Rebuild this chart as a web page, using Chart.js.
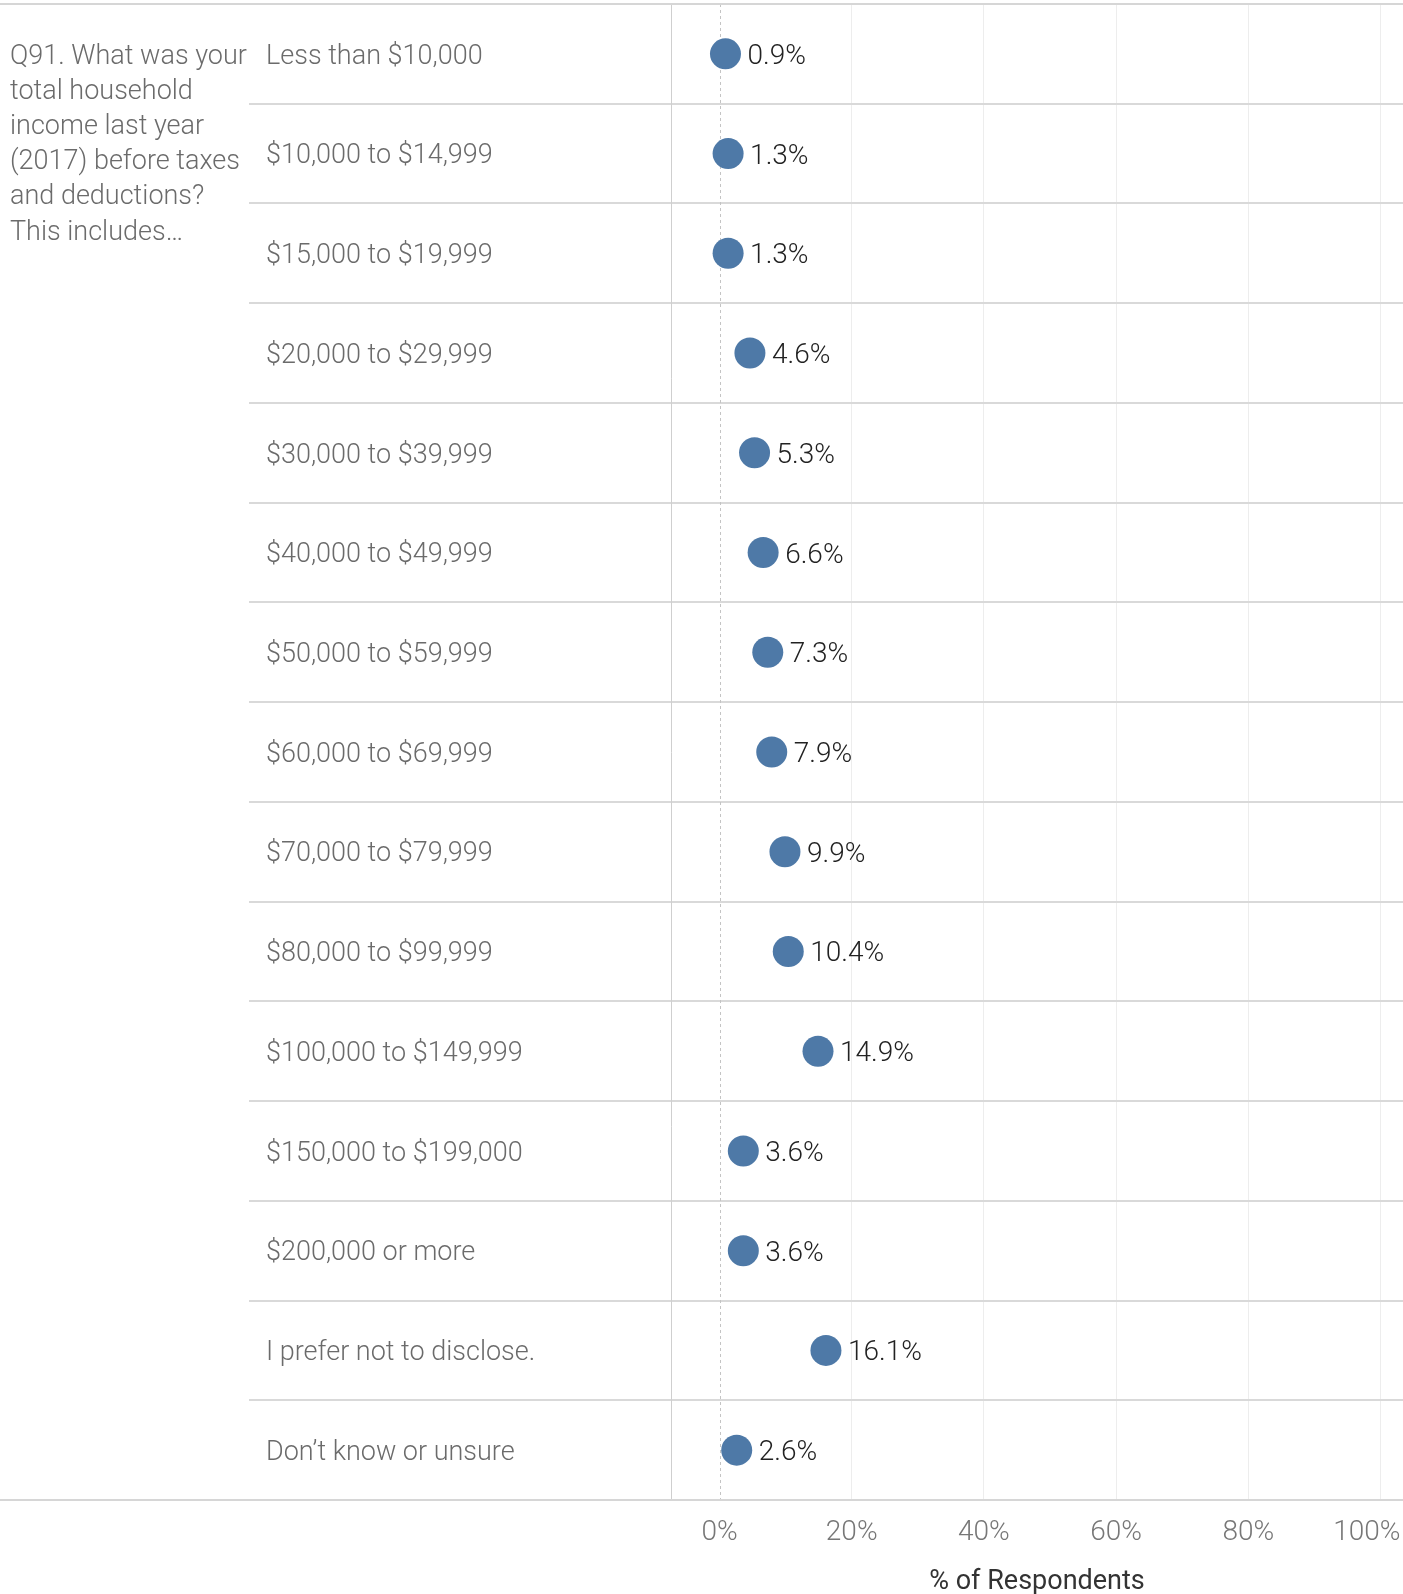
<!DOCTYPE html>
<html><head><meta charset="utf-8">
<script src="https://cdn.jsdelivr.net/npm/chart.js@4.4.1/dist/chart.umd.min.js"></script>
<style>html,body{margin:0;padding:0;background:#fff;overflow:hidden}#wrap{width:1403px;height:1594px;position:relative}</style>
</head><body><div id="wrap"><canvas id="c" width="1403" height="1594"></canvas></div>
<script>
const categories = [
  'Less than $10,000', '$10,000 to $14,999', '$15,000 to $19,999', '$20,000 to $29,999',
  '$30,000 to $39,999', '$40,000 to $49,999', '$50,000 to $59,999', '$60,000 to $69,999',
  '$70,000 to $79,999', '$80,000 to $99,999', '$100,000 to $149,999', '$150,000 to $199,000',
  '$200,000 or more', 'I prefer not to disclose.', 'Don\u2019t know or unsure'
];
const values = [0.9, 1.3, 1.3, 4.6, 5.3, 6.6, 7.3, 7.9, 9.9, 10.4, 14.9, 3.6, 3.6, 16.1, 2.6];
const xTickValues = [0, 20, 40, 60, 80, 100];
const questionLines = ['Q91. What was your', 'total household', 'income last year', '(2017) before taxes', 'and deductions?', 'This includes\u2026'];
const axisTitle = '% of Respondents';

const FONT = 'Roboto';
const extras = {
  id: 'extras',
  beforeDatasetsDraw(chart) {
    const {ctx, chartArea, scales} = chart;
    const x0 = scales.x.getPixelForValue(0);
    ctx.save();
    ctx.strokeStyle = '#c4c4c4';
    ctx.lineWidth = 1;
    ctx.setLineDash([3, 3]);
    ctx.beginPath();
    ctx.moveTo(Math.round(x0) + 0.5, chartArea.top);
    ctx.lineTo(Math.round(x0) + 0.5, chartArea.bottom);
    ctx.stroke();
    ctx.setLineDash([]);
    ctx.strokeStyle = '#d6d6d6';
    ctx.lineWidth = 2;
    [chartArea.top, chartArea.bottom].forEach(y => {
      ctx.beginPath(); ctx.moveTo(0, y); ctx.lineTo(chart.width, y); ctx.stroke();
    });
    ctx.fillStyle = '#6b6b6b';
    ctx.font = '300 27px ' + FONT;
    ctx.textAlign = 'left';
    ctx.textBaseline = 'middle';
    const y0 = scales.y.getPixelForValue(0);
    questionLines.forEach((t, i) => ctx.fillText(t, 10, y0 + 3 + i * 35.2));
    ctx.restore();
  },
  afterDatasetsDraw(chart) {
    const {ctx} = chart;
    const meta = chart.getDatasetMeta(0);
    ctx.save();
    ctx.fillStyle = '#222';
    ctx.font = '300 28px ' + FONT;
    ctx.textAlign = 'left';
    ctx.textBaseline = 'middle';
    meta.data.forEach((pt, i) => {
      ctx.fillText(values[i].toFixed(1) + '%', pt.x + 22, pt.y + 3);
    });
    ctx.restore();
  }
};

const zeroPad = s => { s.paddingTop = 0; s.paddingBottom = 0; s.paddingLeft = 0; s.paddingRight = 0; };

new Chart(document.getElementById('c'), {
  type: 'line',
  data: {
    labels: categories,
    datasets: [{
      data: values, showLine: false, pointRadius: 15.5, pointHoverRadius: 15.5,
      pointBackgroundColor: '#4e79a7', pointBorderWidth: 0, pointBorderColor: '#4e79a7'
    }]
  },
  options: {
    indexAxis: 'y', animation: false, responsive: false, devicePixelRatio: 1,
    events: [],
    plugins: {legend: {display: false}, tooltip: {enabled: false}},
    layout: {autoPadding: false, padding: {left: 266, top: 4, right: 0, bottom: 0}},
    scales: {
      x: {
        type: 'linear', position: 'bottom', min: -7.34, max: 103.4,
        afterBuildTicks: s => { s.ticks = xTickValues.map(v => ({value: v})); },
        afterFit: s => { s.height = 94; zeroPad(s); },
        ticks: {
          callback: v => v === xTickValues[xTickValues.length - 1] ? v + '%\u00a0\u00a0\u00a0\u00a0' : v + '%',
          color: '#777', font: {family: FONT, size: 28, weight: '300'}, padding: 16, maxRotation: 0
        },
        grid: {color: c => (c.tick && c.tick.value === 0) ? 'rgba(0,0,0,0)' : '#ededed', drawTicks: false, lineWidth: 1},
        border: {display: false},
        title: {display: true, text: axisTitle, color: '#333', font: {family: FONT, size: 27, weight: '400', lineHeight: 0.85}, padding: {top: 0, bottom: 0}}
      },
      y: {
        type: 'category', offset: true,
        afterFit: s => { s.width = 405; zeroPad(s); },
        grid: {offset: true, color: '#d9d9d9', lineWidth: 2, drawTicks: true, tickLength: 422, tickColor: '#d9d9d9'},
        border: {display: true, color: '#cfcfcf', width: 1},
        ticks: {crossAlign: 'far', color: '#6b6b6b', font: {family: FONT, size: 27, weight: '300'}, padding: 0, labelOffset: 3}
      }
    }
  },
  plugins: [extras]
});
</script></body></html>
